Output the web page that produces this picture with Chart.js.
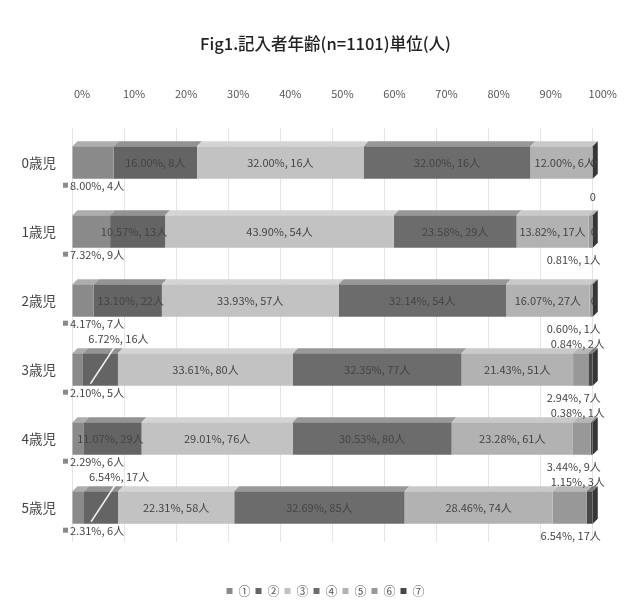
<!DOCTYPE html>
<html lang="ja">
<head>
<meta charset="utf-8">
<title>Fig1 記入者年齢</title>
<script src="https://cdn.jsdelivr.net/npm/chart.js@4/dist/chart.umd.min.js"></script>
<style>
  html, body { margin: 0; padding: 0; background: #fff; }
</style>
</head>
<body>
<canvas id="ageChart" width="635" height="607"></canvas>
<script>
// 年齢区分と回答区分
const ageGroups = ['0歳児', '1歳児', '2歳児', '3歳児', '4歳児', '5歳児'];
const seriesNames = ['①', '②', '③', '④', '⑤', '⑥', '⑦'];

// 区分ごとの人数
const s1 = [4, 9, 7, 5, 6, 6];
const s2 = [8, 13, 22, 16, 29, 17];
const s3 = [16, 54, 57, 80, 76, 58];
const s4 = [16, 29, 54, 77, 80, 85];
const s5 = [6, 17, 27, 51, 61, 74];
const s6 = [0, 1, 1, 7, 9, 17];
const s7 = [0, 0, 0, 2, 1, 3];

const percentTicks = [0, 10, 20, 30, 40, 50, 60, 70, 80, 90, 100];

const seriesColors = ['#8a8a8a', '#646464', '#c2c2c2', '#6c6c6c', '#b2b2b2', '#989898', '#474747'];

const counts = [s1, s2, s3, s4, s5, s6, s7];
const totals = ageGroups.map((_, j) => counts.reduce((sum, s) => sum + s[j], 0));
const percents = counts.map(s => s.map((v, j) => v / totals[j] * 100));

const DEPTH = 5;
const FONT_FAMILY = '"Noto Sans CJK JP", sans-serif';
const LABEL_FONT = '11px ' + FONT_FAMILY;

let lighten = (hex, amt) => {
    const n = parseInt(hex.slice(1), 16);
    const ch = [(n >> 16) & 255, (n >> 8) & 255, n & 255].map(c => Math.round(c + (255 - c) * amt));
    return 'rgb(' + ch.join(',') + ')';
};

// タイトルと凡例を少し右へずらす
const shiftBoxes = {
    id: 'shiftBoxes',
    afterLayout(chart) {
        [chart.titleBlock, chart.legend].forEach(box => {
            if (box) {
                box.left += 20;
                box.right += 20;
            }
        });
    }
};

// 棒の上面と右端の側面を描いて立体風にする
const bar3d = {
    id: 'bar3d',
    afterDatasetsDraw(chart) {
        const ctx = chart.ctx;
        const ends = [];
        ctx.save();
        chart.data.datasets.forEach((ds, i) => {
            const meta = chart.getDatasetMeta(i);
            meta.data.forEach((el, j) => {
                const left = Math.min(el.base, el.x);
                const right = Math.max(el.base, el.x);
                const top = el.y - el.height / 2;
                if (right - left > 0) {
                    ctx.fillStyle = lighten(seriesColors[i], 0.3);
                    ctx.beginPath();
                    ctx.moveTo(left, top);
                    ctx.lineTo(right, top);
                    ctx.lineTo(right + DEPTH, top - DEPTH);
                    ctx.lineTo(left + DEPTH, top - DEPTH);
                    ctx.closePath();
                    ctx.fill();
                    ends[j] = el;
                }
            });
        });
        ends.forEach(el => {
            const right = Math.max(el.base, el.x);
            const top = el.y - el.height / 2;
            const bottom = el.y + el.height / 2;
            ctx.fillStyle = '#363636';
            ctx.beginPath();
            ctx.moveTo(right, top);
            ctx.lineTo(right + DEPTH, top - DEPTH);
            ctx.lineTo(right + DEPTH, bottom - DEPTH);
            ctx.lineTo(right, bottom);
            ctx.closePath();
            ctx.fill();
        });
        ctx.restore();
    }
};

// 各区分の「割合, 人数」ラベル
const valueLabels = {
    id: 'valueLabels',
    afterDatasetsDraw(chart) {
        const ctx = chart.ctx;
        const area = chart.chartArea;
        ctx.save();
        ctx.font = LABEL_FONT;
        ctx.fillStyle = '#444';
        chart.data.datasets.forEach((ds, i) => {
            const meta = chart.getDatasetMeta(i);
            meta.data.forEach((el, j) => {
                const v = counts[i][j];
                const left = Math.min(el.base, el.x);
                const right = Math.max(el.base, el.x);
                const top = el.y - el.height / 2;
                const bottom = el.y + el.height / 2;
                const cx = (left + right) / 2;

                if (v === 0) {
                    if (i === 5) {
                        ctx.textAlign = 'right';
                        ctx.textBaseline = 'middle';
                        ctx.fillText('0', area.right + 3, bottom + 18);
                    } else if (i === 6) {
                        ctx.textAlign = 'center';
                        ctx.textBaseline = 'middle';
                        ctx.fillText('0', area.right + 1, el.y);
                    }
                    return;
                }

                const text = percents[i][j].toFixed(2) + '%, ' + v + '人';
                const tw = ctx.measureText(text).width;
                const w = right - left;

                if (w >= tw + 4) {
                    ctx.textAlign = 'center';
                    ctx.textBaseline = 'middle';
                    ctx.fillText(text, cx, el.y);
                } else if (i === 0) {
                    ctx.fillStyle = seriesColors[0];
                    ctx.fillRect(area.left - 9, bottom + 4, 5, 5);
                    ctx.fillStyle = '#444';
                    ctx.textAlign = 'left';
                    ctx.textBaseline = 'middle';
                    ctx.fillText(text, area.left - 2, bottom + 7);
                } else if (i === 5) {
                    ctx.textAlign = 'right';
                    ctx.textBaseline = 'middle';
                    ctx.fillText(text, area.right + 8, bottom + 12);
                } else if (i === 6) {
                    ctx.textAlign = 'right';
                    ctx.textBaseline = 'middle';
                    ctx.fillText(text, area.right + 12, top - 9);
                } else if (w >= tw * 0.75) {
                    // 少しはみ出しても棒の中に置く
                    ctx.textAlign = 'right';
                    ctx.textBaseline = 'middle';
                    ctx.fillText(text, right + 2, el.y);
                } else {
                    const tx = Math.min(cx + 18, area.right - tw / 2);
                    ctx.strokeStyle = 'rgba(255,255,255,0.9)';
                    ctx.lineWidth = 1.5;
                    ctx.beginPath();
                    ctx.moveTo(tx - 4, top - 6);
                    ctx.lineTo(cx - 10, bottom - 2);
                    ctx.stroke();
                    ctx.textAlign = 'center';
                    ctx.textBaseline = 'bottom';
                    ctx.fillText(text, tx, top - 9);
                }
            });
        });
        ctx.restore();
    }
};

const chartData = {
    labels: ageGroups,
    datasets: seriesNames.map((name, i) => ({
        label: name,
        data: percents[i],
        backgroundColor: seriesColors[i],
        borderWidth: 0,
        barPercentage: 0.47,
        categoryPercentage: 1
    }))
};

const chartOptions = {
    responsive: false,
    animation: false,
    indexAxis: 'y',
    layout: {
        padding: { left: 14, right: 38, top: 0, bottom: 0 }
    },
    plugins: {
        title: {
            display: true,
            text: 'Fig1.記入者年齢(n=1101)単位(人)',
            color: '#222',
            font: { family: FONT_FAMILY, size: 16.5, weight: 500 },
            padding: { top: 34, bottom: 5 }
        },
        legend: {
            position: 'bottom',
            labels: {
                boxWidth: 6,
                boxHeight: 6,
                padding: 5,
                color: '#555',
                font: { family: FONT_FAMILY, size: 12 }
            }
        },
        tooltip: { enabled: false }
    },
    scales: {
        x: {
            position: 'top',
            stacked: true,
            min: 0,
            max: 100,
            afterBuildTicks: scale => {
                scale.ticks = percentTicks.map(v => ({ value: v }));
            },
            ticks: {
                callback: v => v + '%',
                color: '#555',
                padding: 28,
                labelOffset: 10,
                font: { family: FONT_FAMILY, size: 11 }
            },
            grid: { color: '#e4e4e4', drawTicks: false },
            border: { display: false }
        },
        y: {
            stacked: true,
            afterFit: scale => { scale.width = 58; },
            ticks: {
                color: '#444',
                padding: 8,
                font: { family: FONT_FAMILY, size: 13.5 }
            },
            grid: { display: false },
            border: { display: false }
        },
        floor: {
            type: 'linear',
            axis: 'x',
            position: 'bottom',
            display: true,
            ticks: { display: false },
            grid: { display: false },
            border: { display: false },
            afterFit: scale => { scale.height = 38; }
        }
    }
};

new Chart(document.getElementById('ageChart'), {
    type: 'bar',
    data: chartData,
    options: chartOptions,
    plugins: [shiftBoxes, bar3d, valueLabels]
});
</script>
</body>
</html>
